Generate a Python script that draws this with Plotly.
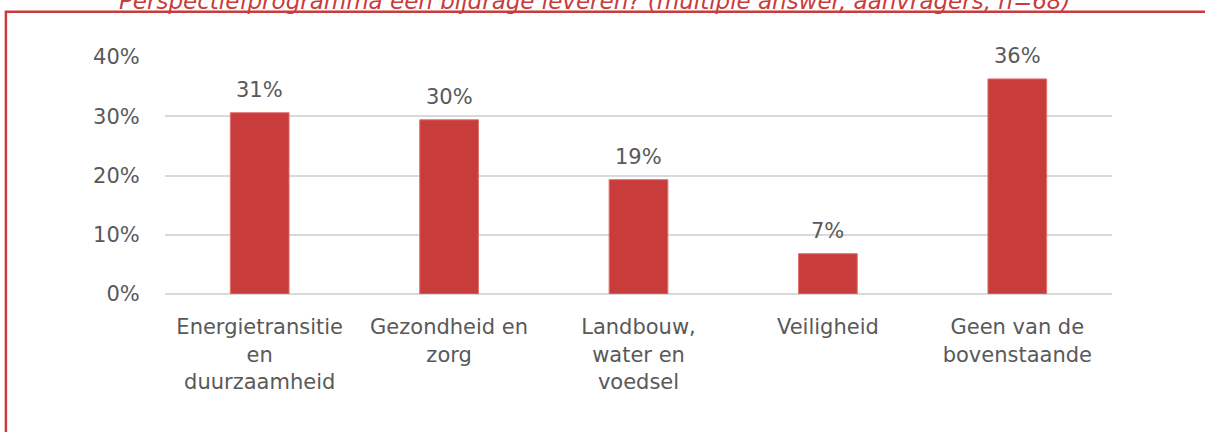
import plotly.graph_objects as go

categories = [
    "Energietransitie<br>en<br>duurzaamheid",
    "Gezondheid en<br>zorg",
    "Landbouw,<br>water en<br>voedsel",
    "Veiligheid",
    "Geen van de<br>bovenstaande",
]
values = [30.6, 29.4, 19.3, 6.8, 36.3]
labels = ["31%", "30%", "19%", "7%", "36%"]
title_text = "Perspectiefprogramma een bijdrage leveren? (multiple answer, aanvragers, n=68)"

RED = "#C83C3C"
GREY = "#595959"
FONT = "DejaVu Sans"
FS = 21

fig = go.Figure(
    go.Bar(
        x=categories,
        y=values,
        marker=dict(color=RED, line=dict(color="#E07070", width=1)),
        hoverinfo="skip",
    )
)

label_annotations = [
    dict(
        x=c,
        y=v,
        xref="x",
        yref="y",
        text=t,
        showarrow=False,
        xanchor="center",
        yanchor="bottom",
        yshift=9,
        font=dict(family=FONT, size=FS, color=GREY),
    )
    for c, v, t in zip(categories, values, labels)
]

fig.update_layout(
    width=1205,
    height=432,
    margin=dict(l=165, r=93, t=57, b=138),
    paper_bgcolor="white",
    plot_bgcolor="white",
    bargap=0.69,
    showlegend=False,
    font=dict(family=FONT, size=FS, color=GREY),
    xaxis=dict(
        showgrid=False,
        showline=False,
        ticks="outside",
        ticklen=14,
        tickcolor="rgba(0,0,0,0)",
        tickfont=dict(family=FONT, size=FS, color=GREY),
        tickangle=0,
    ),
    yaxis=dict(
        range=[0, 40],
        tickvals=[0, 10, 20, 30, 40],
        ticktext=["0%", "10%", "20%", "30%", "40%"],
        showgrid=True,
        gridcolor="#D9D9D9",
        gridwidth=2,
        zeroline=True,
        zerolinecolor="#D9D9D9",
        zerolinewidth=2,
        ticks="outside",
        ticklen=20,
        tickcolor="rgba(0,0,0,0)",
        tickfont=dict(family=FONT, size=FS, color=GREY),
    ),
    shapes=[
        dict(
            type="rect",
            xref="paper",
            yref="paper",
            x0=-0.168,
            x1=1.25,
            y0=-0.8,
            y1=1.191,
            line=dict(color=RED, width=2.5),
            fillcolor="rgba(0,0,0,0)",
            layer="below",
        )
    ],
    annotations=label_annotations + [
        dict(
            text=title_text,
            xref="paper",
            yref="paper",
            x=0.454,
            y=1.237,
            xanchor="center",
            yanchor="middle",
            showarrow=False,
            font=dict(family=FONT, size=23, color=RED, style="italic"),
        )
    ],
)

fig.write_html(
    "out.html",
    config={"displayModeBar": False},
    post_script="document.body.style.margin='0';document.body.style.padding='0';",
)
